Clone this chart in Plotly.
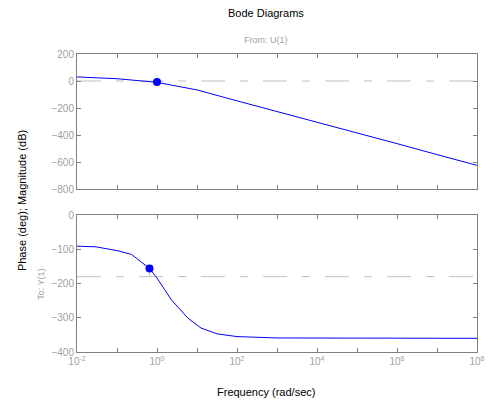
import plotly.graph_objects as go

# ---- data ----
freq_mag = [0.01, 0.1, 1, 10, 100, 1e3, 1e4, 1e5, 1e6, 1e7, 1e8]
mag_db = [30, 17, -10, -66, -147, -225, -304, -384, -464, -545, -625]

freq_ph = [0.01, 0.03, 0.1, 0.23, 0.65, 1, 2.3, 5.9, 12.6, 31.6, 100, 1000, 1e8]
phase_deg = [-91, -93, -104, -115, -156, -184, -248, -301, -330, -347, -355, -359, -360]

gm_freq = [1.0]
gm_mag = [-8]
pm_freq = [0.65]
pm_phase = [-156]

ref_mag = [0, 0]
ref_phase = [-180, -180]
ref_freq = [0.01, 1e8]

mag_ticks = [200, 0, -200, -400, -600, -800]
phase_ticks = [0, -100, -200, -300, -400]
x_major = [1e-2, 1e0, 1e2, 1e4, 1e6, 1e8]
x_major_text = ["10<sup>-2</sup>", "10<sup>0</sup>", "10<sup>2</sup>",
                "10<sup>4</sup>", "10<sup>6</sup>", "10<sup>8</sup>"]
x_minor = [1e-1, 1e1, 1e3, 1e5, 1e7]

FONT = "Liberation Sans, Arial, sans-serif"
BLUE = "#0000ff"
DASH_GRAY = "#c0c0c0"
AX_GRAY = "#808080"
TXT_GRAY = "#a0a0a0"
DASH = "24px,15px,8px,15px"

W, H = 497, 403
L, R, T, B = 77, 12, 54, 51
pw, ph = W - L - R, H - T - B

fig = go.Figure()

# reference dashed lines
fig.add_trace(go.Scatter(x=ref_freq, y=ref_mag, mode="lines",
                         line=dict(color=DASH_GRAY, width=1, dash=DASH),
                         xaxis="x2", yaxis="y2", hoverinfo="skip"))
fig.add_trace(go.Scatter(x=ref_freq, y=ref_phase, mode="lines",
                         line=dict(color=DASH_GRAY, width=1, dash=DASH),
                         xaxis="x", yaxis="y", hoverinfo="skip"))
# phase margin vertical line
fig.add_trace(go.Scatter(x=[pm_freq[0], pm_freq[0]], y=[ref_phase[0], pm_phase[0]],
                         mode="lines", line=dict(color=DASH_GRAY, width=1),
                         xaxis="x", yaxis="y", hoverinfo="skip"))

# curves
fig.add_trace(go.Scatter(x=freq_mag, y=mag_db, mode="lines",
                         line=dict(color=BLUE, width=1), xaxis="x2", yaxis="y2"))
fig.add_trace(go.Scatter(x=freq_ph, y=phase_deg, mode="lines",
                         line=dict(color=BLUE, width=1), xaxis="x", yaxis="y"))

# margin markers
fig.add_trace(go.Scatter(x=gm_freq, y=gm_mag, mode="markers",
                         marker=dict(color=BLUE, size=8), xaxis="x2", yaxis="y2"))
fig.add_trace(go.Scatter(x=pm_freq, y=pm_phase, mode="markers",
                         marker=dict(color=BLUE, size=8), xaxis="x", yaxis="y"))

common_x = dict(type="log", range=[-2, 8], tickvals=x_major, ticks="inside",
                ticklen=4, tickcolor=AX_GRAY, showline=True, linecolor=AX_GRAY,
                linewidth=1, mirror="ticks", showgrid=False, zeroline=False,
                minor=dict(tickvals=x_minor, ticks="inside", ticklen=4,
                           tickcolor=AX_GRAY, showgrid=False),
                tickfont=dict(family=FONT, size=10, color=TXT_GRAY))
common_y = dict(ticks="inside", ticklen=4, tickcolor=AX_GRAY, showline=True,
                linecolor=AX_GRAY, linewidth=1, mirror="ticks", showgrid=False,
                zeroline=False, tickfont=dict(family=FONT, size=10, color=TXT_GRAY))

top_lo = (H - B - 189) / ph
bot_hi = (H - B - 215) / ph

fig.update_layout(
    width=W, height=H,
    margin=dict(l=L, r=R, t=T, b=B),
    paper_bgcolor="white", plot_bgcolor="white",
    showlegend=False,
    xaxis=dict(common_x, ticktext=x_major_text, domain=[0, 1], anchor="y"),
    xaxis2=dict(common_x, showticklabels=False, domain=[0, 1], anchor="y2",
                matches="x"),
    yaxis=dict(common_y, range=[-400, 0], tickvals=phase_ticks, domain=[0, bot_hi],
               anchor="x"),
    yaxis2=dict(common_y, range=[-800, 200], tickvals=mag_ticks, domain=[top_lo, 1],
                anchor="x2"),
)


def px(xp):
    return (xp - L) / pw


def py(yp):
    return (H - B - yp) / ph


texts = [
    ("Bode Diagrams", 270, 13, 11, "black", 0),
    ("From: U(1)", 270, 40, 9, TXT_GRAY, 0),
    ("Frequency (rad/sec)", 270, 392, 11, "black", 0),
    ("Phase (deg); Magnitude (dB)", 21, 201, 11, "black", -90),
    ("To: Y(1)", 40, 284, 9, TXT_GRAY, -90),
]
for txt, xp, yp, size, color, ang in texts:
    fig.add_annotation(text=txt, x=px(xp), y=py(yp), xref="paper", yref="paper",
                       xanchor="center", yanchor="middle", showarrow=False,
                       textangle=ang, font=dict(family=FONT, size=size, color=color))

fig.write_html("out.html",
               config={"displayModeBar": False, "staticPlot": True},
               post_script="document.body.style.margin='0px';"
                           "document.body.style.overflow='hidden';")
